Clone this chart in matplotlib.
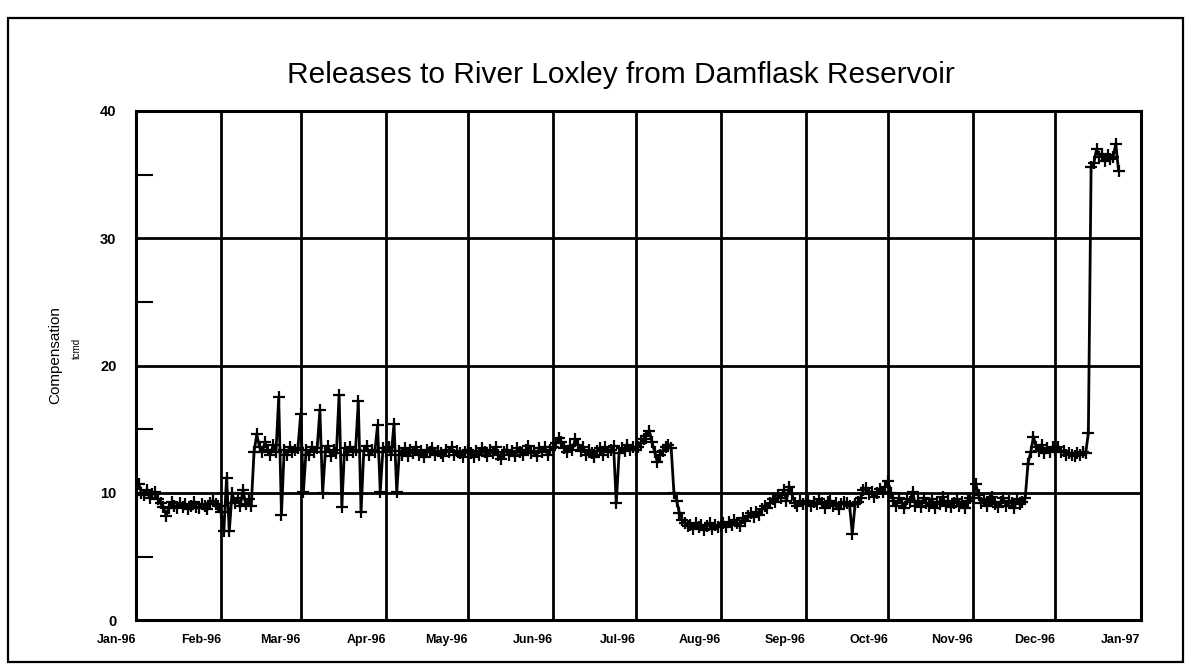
import matplotlib
matplotlib.use('Agg')
import matplotlib.pyplot as plt
from matplotlib.patches import Rectangle
import pandas as pd

plt.rcParams['font.family'] = ['Liberation Sans', 'DejaVu Sans']

# daily releases (tcmd), 1996
jan = [10.4, 10.7, 10.0, 9.8, 10.2, 9.6, 9.9, 10.1, 9.5, 9.2, 8.9, 8.2, 8.8, 9.3, 9.0,
       8.8, 9.2, 8.9, 9.1, 8.7, 9.0, 9.3, 8.9, 8.8, 9.1, 9.0, 8.7, 9.2, 9.4, 9.1, 9.0]
feb = [8.5, 7.0, 11.2, 7.0, 10.0, 9.2, 9.6, 9.0, 10.2, 9.1, 9.5, 9.0, 13.2, 14.6, 13.6,
       13.2, 14.0, 13.4, 13.0, 13.8, 13.2, 17.5, 8.3, 13.4, 13.0, 13.6, 13.2, 13.4, 13.5]
mar = [16.2, 10.1, 13.4, 13.0, 13.6, 13.2, 13.5, 16.5, 10.0, 13.2, 13.7, 12.9, 13.4, 13.1,
       17.7, 8.9, 13.5, 13.0, 13.6, 13.2, 13.4, 17.2, 8.5, 13.3, 13.7, 13.0, 13.4, 13.2,
       15.3, 10.1, 13.5]
apr = [13.2, 13.6, 13.0, 15.4, 10.1, 13.3, 13.0, 13.5, 12.9, 13.4, 13.1, 13.6, 13.0, 13.3,
       12.8, 13.4, 13.2, 13.5, 13.0, 13.3, 13.1, 12.9, 13.4, 13.2, 13.6, 13.0, 13.3, 13.1,
       12.8, 13.2]
may = [13.4, 13.1, 12.8, 13.3, 13.0, 13.5, 13.2, 12.9, 13.4, 13.1, 13.6, 13.0, 12.7, 13.2,
       13.4, 13.0, 13.3, 12.9, 13.5, 13.2, 13.0, 13.4, 13.7, 13.1, 13.3, 12.9, 13.5, 13.2,
       13.6, 13.0, 13.4]
jun = [13.6, 13.9, 14.3, 14.0, 13.5, 13.2, 13.7, 13.4, 14.2, 13.8, 13.3, 13.6, 13.0, 13.4,
       13.1, 12.8, 13.3, 13.5, 13.0, 13.6, 13.2, 13.4, 13.7, 9.2, 13.1, 13.5, 13.3, 13.8,
       13.4, 13.6]
jul = [13.4, 13.6, 13.9, 14.2, 14.5, 14.9, 14.0, 13.2, 12.4, 13.0, 13.3, 13.6, 13.8, 13.5,
       10.0, 9.4, 8.4, 7.9, 7.6, 7.4, 7.5, 7.2, 7.6, 7.3, 7.5, 7.1, 7.4, 7.6, 7.2, 7.5, 7.3]
aug = [7.4, 7.6, 7.3, 7.7, 7.5, 7.9, 7.6, 7.4, 8.0, 7.8, 8.2, 8.4, 8.1, 8.5, 8.3, 8.7, 9.0,
       8.8, 9.2, 9.5, 9.3, 9.8, 9.6, 10.2, 9.4, 10.5, 9.9, 9.2, 9.0, 9.4, 9.1]
sep = [9.2, 9.4, 9.0, 9.3, 9.1, 9.5, 9.2, 8.8, 9.3, 9.4, 9.0, 9.2, 8.7, 9.1, 9.3, 9.2, 9.0,
       6.8, 9.1, 9.3, 9.6, 10.2, 10.4, 9.9, 10.1, 9.7, 10.0, 10.3, 10.1, 10.5]
oct_ = [10.9, 10.0, 9.4, 9.0, 9.6, 9.2, 8.8, 9.5, 9.3, 10.1, 9.0, 9.4, 8.9, 9.6, 9.2, 9.0,
        9.5, 8.8, 9.3, 9.1, 9.7, 9.0, 9.4, 8.9, 9.2, 9.5, 9.0, 9.3, 8.8, 9.4, 9.6]
nov = [9.6, 10.7, 9.8, 9.2, 9.5, 9.0, 9.4, 9.7, 9.1, 8.9, 9.3, 9.6, 9.0, 9.4, 9.2, 8.8,
       9.5, 9.1, 9.3, 9.6, 12.3, 13.2, 14.4, 13.6, 13.3, 13.8, 13.1, 13.5, 13.2, 13.6]
dec = [13.4, 13.6, 13.2, 13.3, 13.0, 13.1, 13.0, 12.9, 13.1, 13.0, 13.2, 13.1, 14.7, 35.6,
       35.9, 37.0, 36.4, 36.6, 36.1, 36.5, 36.2, 36.4, 37.4, 35.3]

month_labels = ['Jan-96', 'Feb-96', 'Mar-96', 'Apr-96', 'May-96', 'Jun-96', 'Jul-96',
                'Aug-96', 'Sep-96', 'Oct-96', 'Nov-96', 'Dec-96', 'Jan-97']

values = jan + feb + mar + apr + may + jun + jul + aug + sep + oct_ + nov + dec
days = pd.date_range('1996-01-01', periods=len(values), freq='D')

fig = plt.figure(figsize=(11.93, 6.72), dpi=100)
ax = fig.add_axes([0.114, 0.077, 0.842, 0.758])

# outer frame of the scanned page
fig.patches.append(Rectangle((0.007, 0.015), 0.985, 0.958, transform=fig.transFigure,
                             fill=False, edgecolor='black', linewidth=1.6))

ax.plot(days, values, color='black', linewidth=2.0, marker='+', markersize=9,
        markeredgewidth=1.6, zorder=3)

ax.set_xlim(pd.Timestamp('1996-01-01'), pd.Timestamp('1997-01-01'))
ax.set_ylim(0, 40)

month_ticks = pd.date_range('1996-01-01', '1997-01-01', freq='MS')
ax.set_xticks(month_ticks)
ax.set_xticklabels(month_labels, fontsize=9, fontweight='bold', ha='right')
ax.set_yticks([0, 10, 20, 30, 40])
ax.set_yticklabels(['0', '10', '20', '30', '40'], fontsize=10.5, fontweight='bold')
ax.set_yticks([5, 15, 25, 35], minor=True)
ax.tick_params(axis='y', which='major', length=0, pad=14)
ax.tick_params(axis='y', which='minor', direction='in', length=12, width=1.5)
ax.tick_params(axis='x', which='major', length=0, pad=10)

ax.grid(True, which='major', color='black', linewidth=2.0)
ax.set_axisbelow(True)
for s in ax.spines.values():
    s.set_linewidth(2.2)

ax.set_title('Releases to River Loxley from Damflask Reservoir', fontsize=21.5, pad=20, x=0.483)
fig.text(0.046, 0.472, 'Compensation', rotation=90, ha='center', va='center', fontsize=11)
fig.text(0.064, 0.482, 'tcmd', rotation=90, ha='center', va='center', fontsize=7)

fig.savefig('out.png', dpi=100)
